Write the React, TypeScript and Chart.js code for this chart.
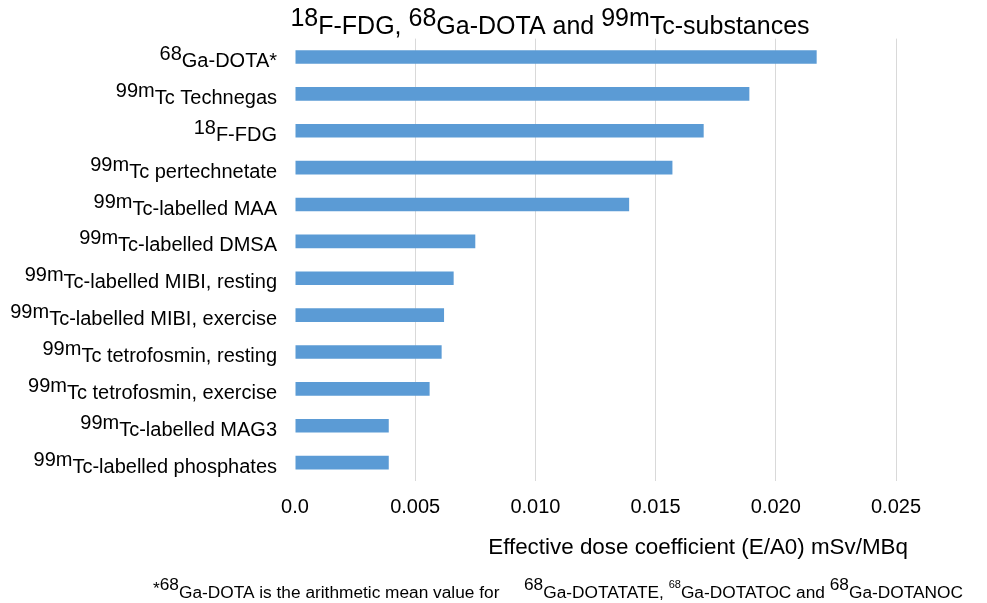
import React, { useEffect, useRef } from "react";
import { Chart, registerables } from "chart.js";

Chart.register(...registerables);

// ---- data ----
const labelSups = ["68", "99m", "18", "99m", "99m", "99m", "99m", "99m", "99m", "99m", "99m", "99m"];
const labelMains = [
  "Ga-DOTA*",
  "Tc Technegas",
  "F-FDG",
  "Tc pertechnetate",
  "Tc-labelled MAA",
  "Tc-labelled DMSA",
  "Tc-labelled MIBI, resting",
  "Tc-labelled MIBI, exercise",
  "Tc tetrofosmin, resting",
  "Tc tetrofosmin, exercise",
  "Tc-labelled MAG3",
  "Tc-labelled phosphates",
];
const categories = labelSups.map((s, i) => s + labelMains[i]);
const doseValues = [0.0217, 0.0189, 0.0170, 0.0157, 0.0139, 0.0075, 0.0066, 0.0062, 0.0061, 0.0056, 0.0039, 0.0039];
const xTickLabels = ["0.0", "0.005", "0.010", "0.015", "0.020", "0.025"];
const xMin = 0;
const xMax = 0.025;
const xStep = 0.005;
const titleSups = ["18", "68", "99m"];
const titleMains = ["F-FDG, ", "Ga-DOTA and ", "Tc-substances"];
const axisTitle = "Effective dose coefficient (E/A0) mSv/MBq";
const footA = { star: "*", sup: "68", main: "Ga-DOTA is the arithmetic mean value for" };
const footB = [
  { sup: "68", main: "Ga-DOTATATE, ", small: false },
  { sup: "68", main: "Ga-DOTATOC and ", small: true },
  { sup: "68", main: "Ga-DOTANOC", small: false },
];

const FONT = "'Liberation Sans', Arial, Helvetica, sans-serif";
const BAR = "#5b9bd5";

type Run = { text: string; size: number; rise: number };

function runsWidth(ctx: CanvasRenderingContext2D, runs: Run[]) {
  let w = 0;
  for (const r of runs) {
    ctx.font = `${r.size}px ${FONT}`;
    w += ctx.measureText(r.text).width;
  }
  return w;
}

function drawRuns(
  ctx: CanvasRenderingContext2D,
  runs: Run[],
  x: number,
  baseline: number,
  align: "left" | "right" | "center"
) {
  const w = runsWidth(ctx, runs);
  let cx = align === "left" ? x : align === "right" ? x - w : x - w / 2;
  ctx.textAlign = "left";
  ctx.textBaseline = "alphabetic";
  for (const r of runs) {
    ctx.font = `${r.size}px ${FONT}`;
    ctx.fillText(r.text, cx, baseline - r.rise);
    cx += ctx.measureText(r.text).width;
  }
  return cx;
}

const textPlugin = {
  id: "supText",
  afterDraw(chart: any) {
    const ctx: CanvasRenderingContext2D = chart.ctx;
    const yScale = chart.scales.y;
    ctx.save();
    ctx.fillStyle = "#000";

    // category labels
    categories.forEach((_, i) => {
      const yc = yScale.getPixelForValue(i);
      drawRuns(
        ctx,
        [
          { text: labelSups[i], size: 20, rise: 7 },
          { text: labelMains[i], size: 20, rise: 0 },
        ],
        277,
        yc + 10,
        "right"
      );
    });

    // title
    const tRuns: Run[] = [];
    titleSups.forEach((s, i) => {
      tRuns.push({ text: s, size: 25, rise: 8 });
      tRuns.push({ text: titleMains[i], size: 25, rise: 0 });
    });
    drawRuns(ctx, tRuns, 550, 34, "center");

    // axis title
    ctx.font = `22.4px ${FONT}`;
    ctx.textAlign = "right";
    ctx.textBaseline = "alphabetic";
    ctx.fillText(axisTitle, 908, 554);

    // footnote
    const FS = 17.3;
    let fx = 153;
    ctx.font = `${FS}px ${FONT}`;
    ctx.textAlign = "left";
    ctx.fillText(footA.star, fx, 594);
    fx += ctx.measureText(footA.star).width;
    drawRuns(
      ctx,
      [
        { text: footA.sup, size: FS, rise: 8 },
        { text: footA.main, size: FS, rise: 0 },
      ],
      fx,
      598,
      "left"
    );
    const bRuns: Run[] = [];
    footB.forEach((p) => {
      bRuns.push({ text: p.sup, size: p.small ? 11 : FS, rise: p.small ? 10 : 8 });
      bRuns.push({ text: p.main, size: FS, rise: 0 });
    });
    drawRuns(ctx, bRuns, 524, 598, "left");

    ctx.restore();
  },
};

export default function App() {
  const ref = useRef<HTMLCanvasElement>(null);
  useEffect(() => {
    if (!ref.current) return;
    const chart = new Chart(ref.current, {
      type: "bar",
      data: {
        labels: categories,
        datasets: [
          {
            data: doseValues,
            backgroundColor: BAR,
            borderWidth: 0,
            categoryPercentage: 1,
            barPercentage: 0.37,
          },
        ],
      },
      options: {
        indexAxis: "y",
        responsive: false,
        animation: false,
        layout: { padding: { left: 295, right: 91, top: 38.6, bottom: 70 } },
        plugins: { legend: { display: false }, tooltip: { enabled: false }, title: { display: false } },
        scales: {
          y: { type: "category", display: false, offset: true },
          x: {
            type: "linear",
            min: xMin,
            max: xMax,
            border: { display: false },
            grid: {
              drawTicks: false,
              color: (c: any) => (c.index === 0 ? "rgba(0,0,0,0)" : "#d9d9d9"),
              lineWidth: 1,
            },
            ticks: {
              stepSize: xStep,
              padding: 14,
              color: "#000",
              font: { size: 20, family: FONT },
              callback: (_v: any, i: number) => xTickLabels[i],
            },
          },
        },
      },
      plugins: [textPlugin],
    });
    return () => chart.destroy();
  }, []);
  return (
    <div style={{ position: "fixed", left: 0, top: 0, width: 987, height: 603, background: "#fff" }}>
      <canvas ref={ref} width={987} height={603} style={{ display: "block" }} />
    </div>
  );
}
